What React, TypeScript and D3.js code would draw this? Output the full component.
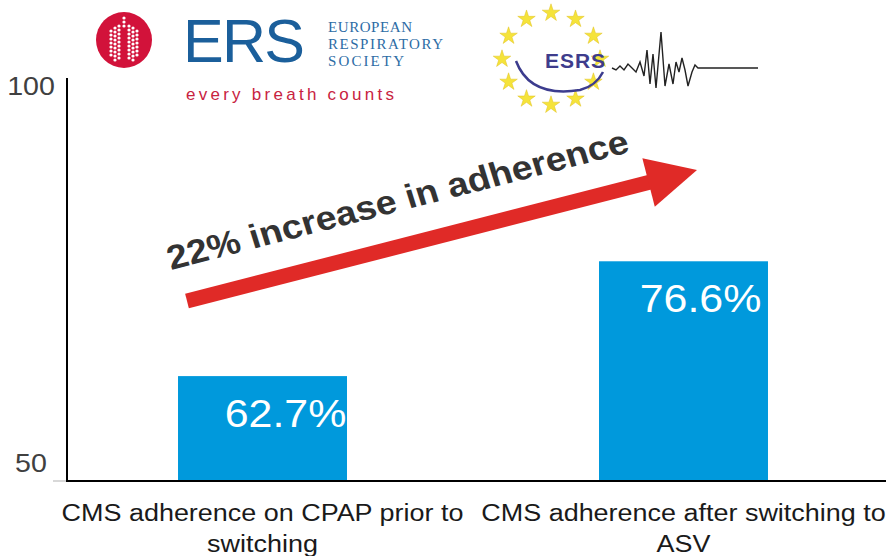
import React, { useEffect, useRef } from "react";
import * as d3 from "d3";

// chart data
const categories = ["CMS adherence on CPAP prior to switching", "CMS adherence after switching to ASV"];
const categoryLines = [
  ["CMS adherence on CPAP prior to", "switching"],
  ["CMS adherence after switching to", "ASV"],
];
const values = [62.7, 76.6];
const valueLabels = ["62.7%", "76.6%"];
const yTicks = [50, 100];
const annotation = "22% increase in adherence";

// decorative waveform of the ESRS logo (logo drawing only, not data)
const wave: [number, number][] = [
  [612, 68], [616, 70], [620, 66], [624, 70], [628, 64], [632, 68], [636, 72], [640, 62], [644, 76],
  [647, 50], [650, 84], [653, 54], [656, 88], [661, 32], [665, 86], [669, 64], [673, 84], [676, 62],
  [679, 72], [682, 58], [685, 70], [688, 86], [692, 72], [695, 65], [698, 68], [758, 68],
];

// text in the source picture is stretched a bit horizontally
const SX = 1.1;

const App = () => {
  const svgRef = useRef<SVGSVGElement | null>(null);

  useEffect(() => {
    const width = 886;
    const height = 556;
    const font = "Arial, 'Liberation Sans', sans-serif";

    const svg = d3.select(svgRef.current);
    svg.selectAll("*").remove();
    svg.attr("width", width).attr("height", height);

    // scales
    const x = d3.scaleBand().domain(categories).range([67, 879]).paddingInner(0.5986).paddingOuter(0.2637);
    const y = d3.scaleLinear().domain([50, 100]).range([481, 68]);

    // stretched text helper
    const stext = (g: any, px: number, py: number, size: number) =>
      g
        .append("text")
        .attr("transform", `translate(${px},${py}) scale(${SX},1)`)
        .style("font-family", font)
        .style("font-size", `${size}px`);

    // bars
    svg
      .selectAll("rect.bar")
      .data(values)
      .enter()
      .append("rect")
      .attr("class", "bar")
      .attr("x", (_, i) => x(categories[i])!)
      .attr("y", (d) => y(d))
      .attr("width", x.bandwidth())
      .attr("height", (d) => y(50) - y(d))
      .attr("fill", "#0099DC");

    // value labels
    const labelShift = [23, 17];
    values.forEach((v, i) => {
      stext(svg, x(categories[i])! + x.bandwidth() / 2 + labelShift[i], y(v) + 51, 39)
        .attr("text-anchor", "middle")
        .style("fill", "#ffffff")
        .text(valueLabels[i]);
    });

    // axes lines
    svg.append("line").attr("x1", 67).attr("x2", 67).attr("y1", 78).attr("y2", y(50)).attr("stroke", "#000").attr("stroke-width", 2);
    svg.append("line").attr("x1", 53).attr("x2", 67).attr("y1", y(50)).attr("y2", y(50)).attr("stroke", "#d8d8d8").attr("stroke-width", 2);
    svg.append("line").attr("x1", 66).attr("x2", width).attr("y1", y(50)).attr("y2", y(50)).attr("stroke", "#000").attr("stroke-width", 2);

    // y tick labels
    yTicks.forEach((t) => {
      stext(svg, 31, t === 100 ? y(t) + 27 : y(t) - 9, 26)
        .attr("text-anchor", "middle")
        .style("fill", "#404040")
        .text(t);
    });

    // category labels
    categoryLines.forEach((lines, i) => {
      const cx = x(categories[i])! + x.bandwidth() / 2;
      lines.forEach((l, j) => {
        stext(svg, cx, 521 + j * 31, 24.5)
          .attr("text-anchor", "middle")
          .style("fill", "#1a1a1a")
          .text(l);
      });
    });

    // arrow
    const x0 = 187, y0 = 301, x1 = 697, y1 = 170;
    const ang = Math.atan2(y1 - y0, x1 - x0);
    const deg = (ang * 180) / Math.PI;
    const len = Math.hypot(x1 - x0, y1 - y0);
    const arrow = svg.append("g").attr("transform", `translate(${x0},${y0}) rotate(${deg})`);
    arrow.append("rect").attr("x", 0).attr("y", -7.5).attr("width", len - 40).attr("height", 15).attr("fill", "#E02A27");
    arrow
      .append("path")
      .attr("d", `M${len - 50},-25 L${len},0 L${len - 50},25 Z`)
      .attr("fill", "#E02A27");

    // annotation, rotated to follow the arrow (angle compensated for the stretch)
    const degText = (Math.atan(Math.tan(ang) * SX) * 180) / Math.PI;
    svg
      .append("text")
      .attr("transform", `translate(171,270) scale(${SX},1) rotate(${degText})`)
      .style("font-family", font)
      .style("font-size", "34px")
      .style("font-weight", "bold")
      .style("fill", "#333333")
      .text(annotation);

    // ERS logo
    const ers = svg.append("g");
    ers.append("circle").attr("cx", 124).attr("cy", 40).attr("r", 28).attr("fill", "#D2123A");
    const dots: [number, number][] = [];
    for (let r = 0; r < 3; r++) dots.push([124, 18 + r * 4]);
    [-13, -9, -5, 5, 9, 13].forEach((dx) => {
      const top = Math.abs(dx) === 5 ? 26 : Math.abs(dx) === 9 ? 28 : 31;
      const bot = Math.abs(dx) === 13 ? 55 : 60;
      for (let yy = top; yy <= bot; yy += 4) dots.push([124 + dx, yy]);
    });
    ers
      .selectAll("circle.dot")
      .data(dots)
      .enter()
      .append("circle")
      .attr("cx", (d) => d[0])
      .attr("cy", (d) => d[1])
      .attr("r", 1.6)
      .attr("fill", "#fff");
    ers
      .append("text")
      .attr("x", 183)
      .attr("y", 62)
      .attr("textLength", 122)
      .style("font-family", font)
      .style("font-size", "61px")
      .style("fill", "#1B5F9B")
      .text("ERS");
    ["EUROPEAN", "RESPIRATORY", "SOCIETY"].forEach((l, i) => {
      ers
        .append("text")
        .attr("x", 328)
        .attr("y", 32 + i * 17)
        .attr("textLength", [84, 115, 76][i])
        .style("font-family", "'Liberation Serif', 'DejaVu Serif', serif")
        .style("font-size", "15px")
        .style("fill", "#2D6CA5")
        .text(l);
    });
    ers
      .append("text")
      .attr("x", 186)
      .attr("y", 100)
      .attr("textLength", 208)
      .style("font-family", font)
      .style("font-size", "17px")
      .style("fill", "#C8233F")
      .text("every breath counts");

    // ESRS logo
    const esrs = svg.append("g");
    const scx = 551, scy = 59;
    const star = d3.symbol().type(d3.symbolStar).size(95);
    d3.range(12).forEach((k) => {
      const a = (k / 12) * Math.PI * 2 - Math.PI / 2;
      esrs
        .append("path")
        .attr("d", star()!)
        .attr("transform", `translate(${scx + 49 * Math.cos(a)},${scy + 46 * Math.sin(a)})`)
        .attr("fill", "#F5E33A")
        .attr("stroke", "#E0C020")
        .attr("stroke-width", 0.5);
    });
    esrs
      .append("path")
      .attr("d", "M516,61 Q530,98 580,90 Q596,86 603,72")
      .attr("fill", "none")
      .attr("stroke", "#3C3C8E")
      .attr("stroke-width", 2.5);
    esrs
      .append("text")
      .attr("x", 575)
      .attr("y", 68)
      .attr("text-anchor", "middle")
      .attr("textLength", 60)
      .style("font-family", font)
      .style("font-size", "21px")
      .style("font-weight", "bold")
      .style("fill", "#3E3C8C")
      .text("ESRS");
    const line = d3.line<[number, number]>().curve(d3.curveLinear);
    esrs.append("path").attr("d", line(wave)!).attr("fill", "none").attr("stroke", "#222").attr("stroke-width", 1.4);
  }, []);

  return <svg ref={svgRef} style={{ position: "absolute", left: 0, top: 0, background: "#fff" }}></svg>;
};

export default App;
